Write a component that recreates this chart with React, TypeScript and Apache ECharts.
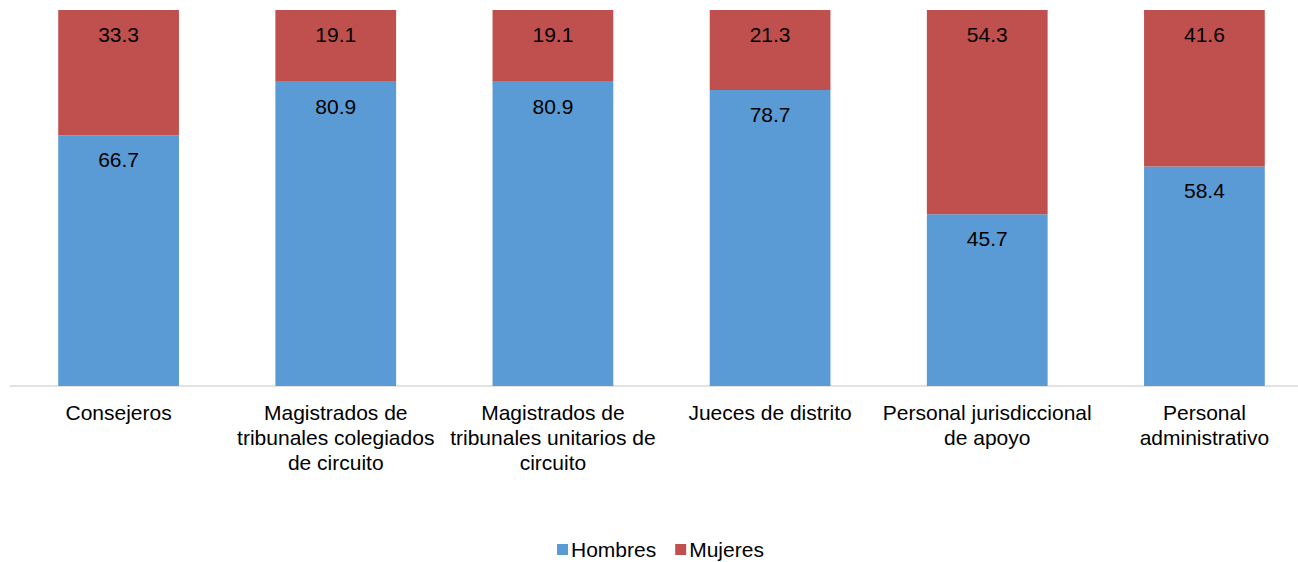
import React, { useEffect, useRef } from "react";
import * as echarts from "echarts";

const categories = [
  "Consejeros",
  "Magistrados de\ntribunales colegiados\nde circuito",
  "Magistrados de\ntribunales unitarios de\ncircuito",
  "Jueces de distrito",
  "Personal jurisdiccional\nde apoyo",
  "Personal\nadministrativo",
];
const hombres = [66.7, 80.9, 80.9, 78.7, 45.7, 58.4];
const mujeres = [33.3, 19.1, 19.1, 21.3, 54.3, 41.6];

const FONT = "'Liberation Sans', Arial, sans-serif";

export default function App() {
  const ref = useRef<HTMLDivElement>(null);
  useEffect(() => {
    if (!ref.current) return;
    const chart = echarts.init(ref.current, null, { renderer: "svg" });
    const label = {
      show: true,
      position: "insideTop" as const,
      distance: 14,
      color: "#000",
      fontSize: 21,
      fontFamily: FONT,
      formatter: (p: any) => Number(p.value).toFixed(1),
    };
    chart.setOption({
      animation: false,
      grid: { left: 10, top: 10, right: 0, height: 376 },
      legend: {
        bottom: -3,
        left: 552,
        itemWidth: 11,
        itemHeight: 11,
        itemGap: 19,
        icon: "rect",
        textStyle: { fontSize: 21, fontFamily: FONT, color: "#000", padding: [0, 0, 0, -2] },
        data: ["Hombres", "Mujeres"],
      },
      xAxis: {
        type: "category",
        data: categories,
        axisLine: { lineStyle: { color: "#d9d9d9", width: 1.5 } },
        axisTick: { show: false },
        axisLabel: {
          interval: 0,
          margin: 14,
          fontSize: 21,
          lineHeight: 25,
          color: "#000",
          fontFamily: FONT,
        },
      },
      yAxis: { type: "value", min: 0, max: 100, show: false, splitLine: { show: false } },
      series: [
        {
          name: "Hombres",
          type: "bar",
          stack: "total",
          data: hombres,
          barCategoryGap: "44.4%",
          itemStyle: { color: "#5B9BD5" },
          label,
        },
        {
          name: "Mujeres",
          type: "bar",
          stack: "total",
          data: mujeres,
          itemStyle: { color: "#C0504D" },
          label,
        },
      ],
    });
    return () => chart.dispose();
  }, []);
  return (
    <div
      style={{ position: "fixed", left: 0, top: 0, width: 1298, height: 562, overflow: "hidden", background: "#fff" }}
    >
      <div ref={ref} style={{ width: 1313, height: 562 }} />
    </div>
  );
}
